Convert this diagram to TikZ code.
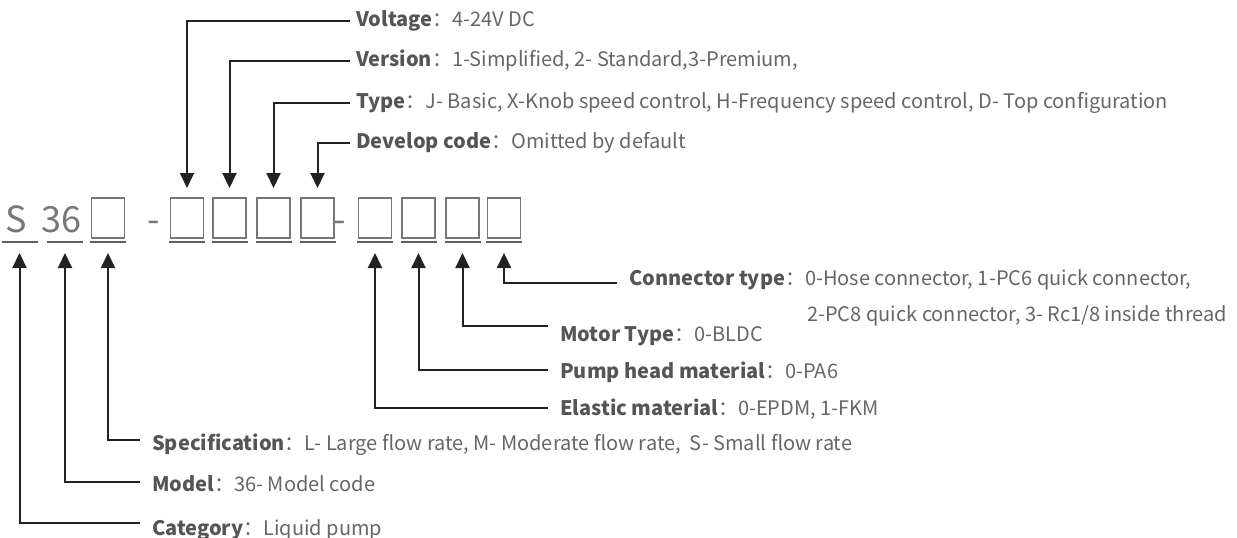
\documentclass[tikz,border=0pt]{standalone}
\usepackage{fontspec}
\setmainfont{Noto Sans CJK SC}
\usetikzlibrary{arrows.meta}
\definecolor{labc}{HTML}{555555}
\definecolor{txtc}{HTML}{666666}
\definecolor{lnc}{HTML}{222222}
\definecolor{bxc}{HTML}{777777}
\newcommand{\lb}[2]{\textbf{\color{labc}#1}：#2}
\begin{document}
\begin{tikzpicture}[x=1pt,y=-1pt,
  conn/.style={draw=lnc,line width=2pt,-{Triangle[width=14pt,length=15pt]}},
  lbl/.style={anchor=base west,inner sep=0pt,font=\fontsize{20}{24}\selectfont,text=txtc},
  slot/.style={minimum width=36pt,minimum height=65pt,inner sep=0pt,outer sep=0pt},
  big/.style={font=\fontsize{36}{40}\selectfont,text=bxc,inner sep=0pt,anchor=base},
  boxst/.style={draw=bxc,line width=1.7pt},
  ul/.style={draw=bxc!80!black,line width=2.2pt}]
\useasboundingbox (0,0) rectangle (1237,538);
% slots
\node[slot] (sS) at (19.5,220.5) {};
\node[slot] (s36) at (65,220.5) {};
\node[slot] (k1) at (108,220.5) {};
\node[slot] (k2) at (187,220.5) {};
\node[slot] (k3) at (229.5,220.5) {};
\node[slot] (k4) at (273.5,220.5) {};
\node[slot] (k5) at (317.5,220.5) {};
\node[slot] (k6) at (375,220.5) {};
\node[slot] (k7) at (418.5,220.5) {};
\node[slot] (k8) at (462.5,220.5) {};
\node[slot] (k9) at (504,220.5) {};
\node[big] (tS) at (16,232) {S};
\node[big] (t36) at (61,232) {36};
\node[big] (d1) at (153.5,232) {-};
\node[big] (d2) at (340,232) {-};
\foreach \k in {k1,k2,k3,k4,k5,k6,k7,k8,k9}{
  \draw[boxst] ([xshift=-16.5pt,yshift=22.5pt]\k.center) rectangle ([xshift=16.5pt,yshift=-17.5pt]\k.center);
}
\foreach \k in {sS,s36,k1,k2,k3,k4,k5,k6,k7,k8,k9}{
  \draw[ul] ([xshift=-18pt,yshift=-21.5pt]\k.center) -- ([xshift=18pt,yshift=-21.5pt]\k.center);
}
% top labels
\node[lbl] (volt) at (356,26) {\lb{Voltage}{4-24V DC}};
\node[lbl] (vers) at (356,66) {\lb{Version}{1-Simplified, 2- Standard,3-Premium,}};
\node[lbl] (type) at (356,108) {\lb{Type}{J- Basic, X-Knob speed control, H-Frequency speed control, D- Top configuration}};
\node[lbl] (dev) at (356,148) {\lb{Develop code}{Omitted by default}};
% right labels
\node[lbl] (cont) at (629,285) {\lb{Connector type}{0-Hose connector, 1-PC6 quick connector,}};
\node[lbl] (cont2) at (807,321.7) {2-PC8 quick connector, 3- Rc1/8 inside thread};
\node[lbl] (mot) at (560,341.7) {\lb{Motor Type}{0-BLDC}};
\node[lbl] (pump) at (560,378) {\lb{Pump head material}{0-PA6}};
\node[lbl] (ela) at (560,415) {\lb{Elastic material}{0-EPDM, 1-FKM}};
% bottom labels
\node[lbl] (spec) at (152,450) {\lb{Specification}{L- Large flow rate, M- Moderate flow rate,\ \ S- Small flow rate}};
\node[lbl] (mod) at (152,491.7) {\lb{Model}{36- Model code}};
\node[lbl] (cat) at (152,535) {\lb{Category}{Liquid pump}};
% connectors
\draw[conn] ([xshift=-6pt,yshift=5pt]volt.base west) -| (k2.north);
\draw[conn] ([xshift=-6pt,yshift=5pt]vers.base west) -| (k3.north);
\draw[conn] ([xshift=-6pt,yshift=5pt]type.base west) -| (k4.north);
\draw[conn] ([xshift=-6pt,yshift=5pt]dev.base west) -| (k5.north);
\draw[conn] ([xshift=-12pt,yshift=2.5pt]cont.base west) -| (k9.south);
\draw[conn] ([xshift=-12pt,yshift=15.7pt]mot.base west) -| (k8.south);
\draw[conn] ([xshift=-12pt,yshift=8pt]pump.base west) -| (k7.south);
\draw[conn] ([xshift=-12pt,yshift=7pt]ela.base west) -| (k6.south);
\draw[conn] ([xshift=-12pt,yshift=10pt]spec.base west) -| (k1.south);
\draw[conn] ([xshift=-12pt,yshift=9.7pt]mod.base west) -| (s36.south);
\draw[conn] ([xshift=-12pt,yshift=12pt]cat.base west) -| (sS.south);
\end{tikzpicture}
\end{document}
